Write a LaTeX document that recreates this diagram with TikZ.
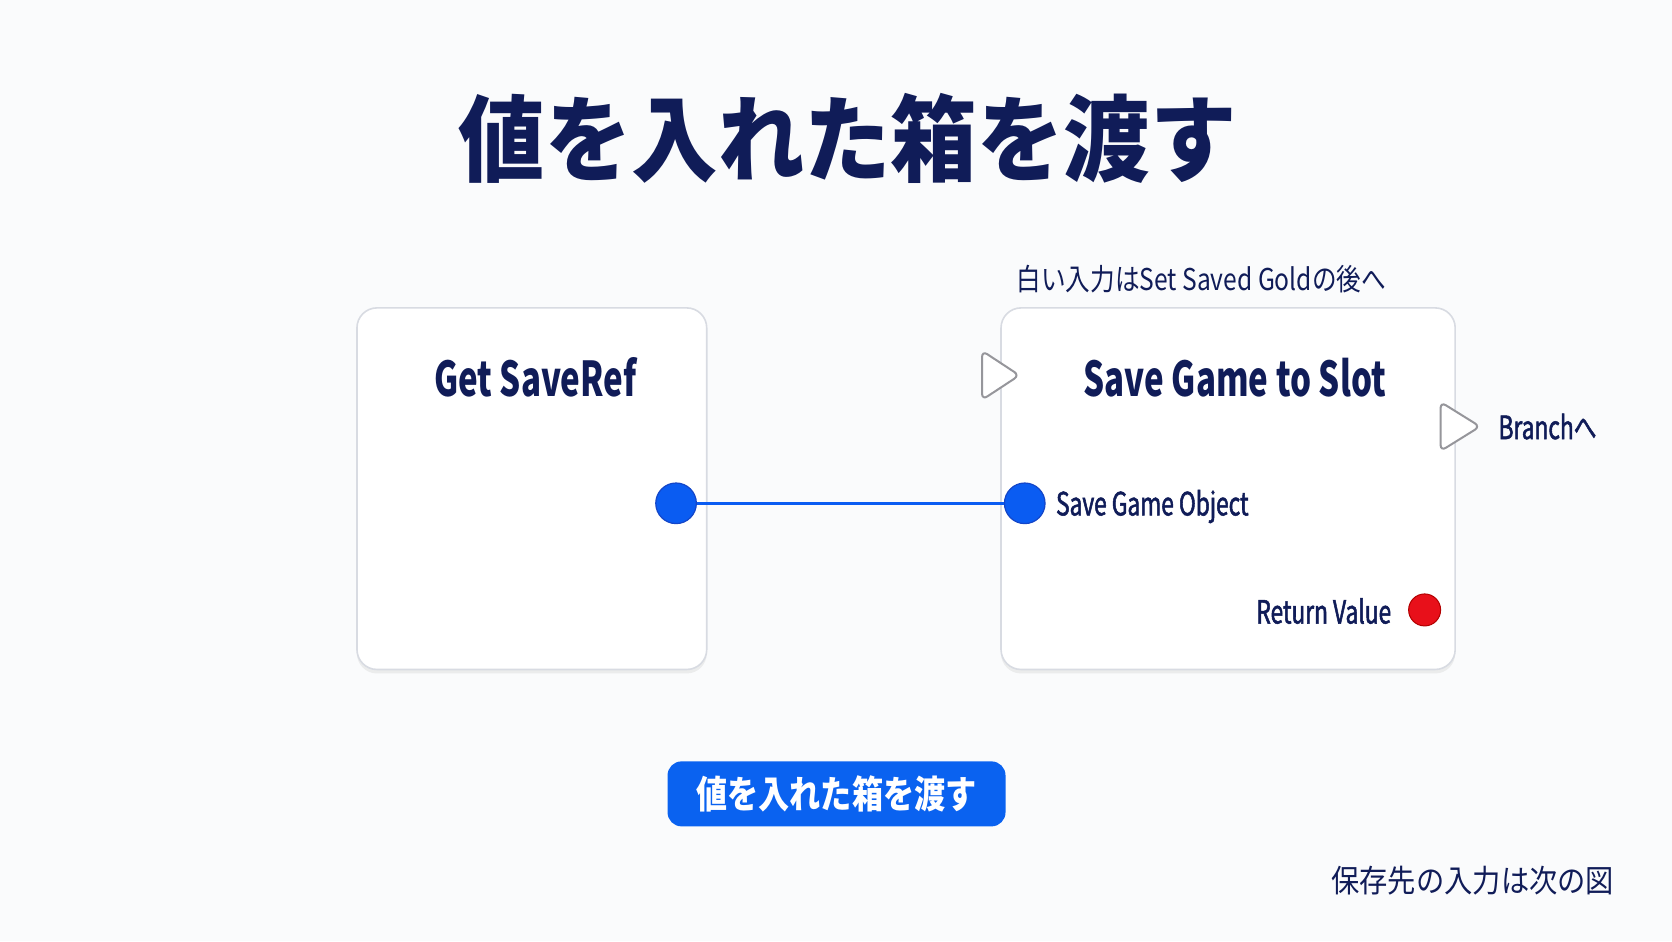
\documentclass[tikz,border=0pt]{standalone}
\usepackage{fontspec}
\setmainfont{Noto Sans CJK JP}
\newfontfamily\condfont{Noto Sans CJK JP}[FakeStretch=0.69]
\newfontfamily\medfont{Noto Sans CJK JP}[FakeStretch=0.71, FakeBold=1.6]
\newfontfamily\notefont{Noto Sans CJK JP}[FakeStretch=0.82]
\newfontfamily\footfont{Noto Sans CJK JP}[FakeStretch=0.9]
\newfontfamily\titlefont{Noto Sans CJK JP}[FakeStretch=0.92]
\usetikzlibrary{calc,shadows}
\definecolor{navy}{RGB}{16,28,88}
\definecolor{pinblue}{RGB}{10,92,242}
\definecolor{pinedge}{RGB}{20,70,200}
\definecolor{btnblue}{RGB}{10,98,240}
\definecolor{retred}{RGB}{232,16,26}
\definecolor{cardedge}{RGB}{216,219,226}
\definecolor{execedge}{RGB}{150,150,155}
\definecolor{bg}{RGB}{250,251,252}
\tikzset{
  card/.style={draw=cardedge, line width=0.8pt, fill=white, rounded corners=10pt,
    drop shadow={opacity=0.12, shadow xshift=0pt, shadow yshift=-2pt}},
  cardtitle/.style={text=navy, font=\condfont\bfseries\fontsize{24}{28}\selectfont, inner sep=0pt},
  pinlabel/.style={text=navy, font=\medfont\fontsize{16}{19}\selectfont, inner sep=0pt},
  pinin/.style={circle, fill=pinblue, draw=pinedge, line width=0.6pt, minimum size=20.3pt, inner sep=0pt},
  pinret/.style={circle, fill=retred, draw=red!70!black, line width=0.5pt, minimum size=16pt, inner sep=0pt},
  wire/.style={draw=pinblue, line width=1.7pt},
  exec/.style={draw=execedge, fill=white, line width=1pt, rounded corners=3pt},
  note/.style={text=navy, font=\notefont\fontsize{15}{18}\selectfont, inner sep=0pt},
}
\begin{document}
\begin{tikzpicture}[x=0.5332pt, y=-0.5332pt]
\fill[bg] (0,0) rectangle (1568,882.5);
\useasboundingbox (0,0) rectangle (1568,882.5);

% title
\node[text=navy, font=\titlefont\bfseries\fontsize{47}{54}\selectfont, inner sep=0pt] (title) at (795,130) {値を入れた箱を渡す};

% cards
\node[card, minimum width=174.9pt, minimum height=180.8pt, anchor=north west] (getref) at (334,288) {};
\node[card, minimum width=227.1pt, minimum height=180.8pt, anchor=north west] (savegame) at (938,288) {};

\node[cardtitle] (getreftitle) at (502,354) {Get SaveRef};
\node[cardtitle] (savetitle) at (1158,354) {Save Game to Slot};

% annotation
\node[note, anchor=west] (annot) at (953,262) {白い入力はSet Saved Goldの後へ};

% exec pins
\coordinate (execin) at (938,352);
\coordinate (execout) at (1369,400);
\draw[exec] ($(execin)+(-17,-23)$) -- ++(35,23) -- ++(-35,23) -- cycle;
\draw[exec] ($(execout)+(-18,-23)$) -- ++(37,23) -- ++(-37,23) -- cycle;
\node[pinlabel, anchor=west] (branch) at (1405,400) {Branchへ};

% data pins
\node[pinin] (outref) at (634,472) {};
\node[pinin] (inobj) at (961,472) {};
\draw[wire] (outref.east) -- (inobj.west);
\node[pinlabel, anchor=west] (objlabel) at (990,475) {Save Game Object};
\node[pinret] (retpin) at (1336,572) {};
\node[pinlabel, anchor=east] (retlabel) at (1305,573) {Return Value};

% button
\node[fill=btnblue, rounded corners=7pt, minimum width=169pt, minimum height=32.5pt, inner sep=0pt,
  text=white, font=\notefont\bfseries\fontsize{19}{22}\selectfont] (button) at (784.5,744.5) {値を入れた箱を渡す};

% footer
\node[text=navy, inner sep=0pt, font=\footfont\fontsize{15.7}{18}\selectfont, anchor=east] (footer) at (1514,826) {保存先の入力は次の図};
\end{tikzpicture}
\end{document}
